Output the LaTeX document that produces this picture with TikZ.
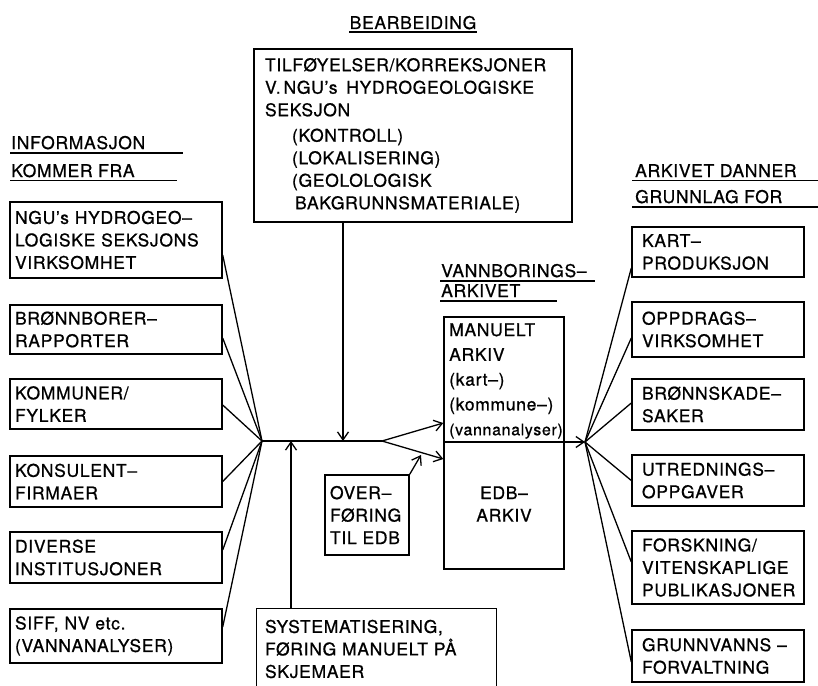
\documentclass[tikz,border=0pt]{standalone}
\usepackage{fontspec}
\setmainfont{TeX Gyre Heros}[LetterSpace=4,FakeBold=0.8]
\usetikzlibrary{arrows.meta}
\newcommand\dfont{\fontsize{17.5}{22.5}\selectfont}
\newcommand\sfontx{\fontsize{16}{22.5}\selectfont}
\tikzset{
  boxline/.style={line width=1.4pt},
  box/.style={draw, boxline, inner ysep=0pt, align=left, font=\dfont},
  lbox/.style={box, minimum width=212pt, inner xsep=5pt, text width=202pt},
  rbox/.style={box, minimum width=172pt, inner xsep=10pt, text width=152pt},
  lbl/.style={inner sep=0pt, font=\dfont},
  uline/.style={line width=1.2pt},
  wire/.style={line width=1.3pt},
  arr/.style={wire, -{Straight Barb[length=8pt,width=11pt]}},
}
\begin{document}
\begin{tikzpicture}[x=1pt,y=-1pt]
\useasboundingbox (0,0) rectangle (818,685);

% ---- headers
\node[lbl, anchor=base] (bear) at (413,29) {BEARBEIDING};
\draw[uline] ([yshift=-3pt]bear.base west) -- ([yshift=-3pt]bear.base east);

\node[lbl, anchor=base west] (inf) at (11,149) {INFORMASJON};
\draw[uline] ([xshift=-1pt,yshift=-4pt]inf.base west) -- ++(173,0);
\node[lbl, anchor=base west] (kom) at (11,177) {KOMMER FRA};
\draw[uline] ([xshift=-1pt,yshift=-3.5pt]kom.base west) -- ++(167,0);

\node[lbl, anchor=base west] (ark) at (635,177) {ARKIVET DANNER};
\draw[uline] ([xshift=-3pt,yshift=-3.5pt]ark.base west) -- ++(190,0);
\node[lbl, anchor=base west] (gru) at (635,203) {GRUNNLAG FOR};
\draw[uline] ([xshift=-3pt,yshift=-4pt]gru.base west) -- ++(190,0);

\node[lbl, anchor=base west] (vb) at (441,277) {VANNBORINGS–};
\draw[uline] ([xshift=-1pt,yshift=-4pt]vb.base west) -- ++(155,0);
\node[lbl, anchor=base west] (va) at (441,297) {ARKIVET};
\draw[uline] ([xshift=-1pt,yshift=-4pt]va.base west) -- ++(117,0);

% ---- top box
\node[box, minimum width=318pt, minimum height=173pt, inner xsep=11pt, text width=296pt] (top) at (413,135.5)
 {TILFØYELSER/KORREKSJONER\\
  V.\,NGU's\enspace HYDROGEOLOGISKE\\
  SEKSJON\\[3pt]
  \hspace*{27pt}(KONTROLL)\\
  \hspace*{27pt}(LOKALISERING)\\
  \hspace*{27pt}(GEOLOLOGISK\\
  \hspace*{30pt}BAKGRUNNSMATERIALE)};

% ---- left boxes
\node[lbox, minimum height=76pt] (l1) at (116,240) {NGU's HYDROGEO–\\LOGISKE SEKSJONS\\VIRKSOMHET};
\node[lbox, minimum height=49pt] (l2) at (116,329.5) {BRØNNBORER–\\RAPPORTER};
\node[lbox, minimum height=50pt] (l3) at (116,404) {KOMMUNER/\\FYLKER};
\node[lbox, minimum height=51pt] (l4) at (116,481.5) {KONSULENT–\\FIRMAER};
\node[lbox, minimum height=51pt] (l5) at (116,557.5) {DIVERSE\\INSTITUSJONER};
\node[lbox, minimum height=54pt] (l6) at (116,636) {SIFF, NV etc.\\(VANNANALYSER)};

% ---- right boxes
\node[rbox, minimum height=50pt] (r1) at (718,252) {KART–\\PRODUKSJON};
\node[rbox, minimum height=55pt] (r2) at (718,329.5) {OPPDRAGS–\\VIRKSOMHET};
\node[rbox, minimum height=51pt] (r3) at (718,404.5) {BRØNNSKADE–\\SAKER};
\node[rbox, minimum height=51pt] (r4) at (718,480.5) {UTREDNINGS–\\OPPGAVER};
\node[rbox, minimum height=73pt] (r5) at (718,567.5) {FORSKNING/\\VITENSKAPLIGE\\PUBLIKASJONER};
\node[rbox, minimum height=52pt] (r6) at (718,656) {GRUNNVANNS –\\FORVALTNING};

% ---- archive
\node[draw, boxline, minimum width=120pt, minimum height=252pt, inner sep=0pt] (arch) at (504,443) {};
\node[lbl, align=left, anchor=center, font=\fontsize{17.5}{24.8}\selectfont] (man) at (506,381)
 {MANUELT\\ARKIV\\(kart–)\\(kommune–)\\{\sfontx (vannanalyser)}};
\node[lbl, align=center] (edb) at (504,504) {EDB–\\ARKIV};

% ---- overføring & systematisering
\node[box, minimum width=84pt, minimum height=80pt, inner xsep=5pt, text width=74pt] (ovf) at (367,515) {OVER–\\FØRING\\TIL EDB};
\node[box, draw=none, minimum width=239pt, minimum height=80pt, inner xsep=8pt, text width=223pt] (sys) at (376.5,649)
 {SYSTEMATISERING,\\FØRING MANUELT PÅ\\SKJEMAER};
\draw[boxline] (sys.south west) -- (sys.north west) -- (sys.north east) -- (sys.south east);

% ---- junctions
\coordinate (hubL) at (262,441);
\coordinate (fork) at (382,441);
\coordinate (jt) at (343,441);
\coordinate (js) at (291,441);
\coordinate (hubR) at (585,442);
\coordinate (ovtip) at (421,455);

% ---- connectors left
\draw[wire] ([yshift=-15pt]l1.east) -- (hubL);
\draw[wire] ([yshift=-8.5pt]l2.east) -- (hubL);
\draw[wire] ([yshift=-1pt]l3.east) -- (hubL);
\draw[wire] (l4.east) -- (hubL);
\draw[wire] ([yshift=7.5pt]l5.east) -- (hubL);
\draw[wire] ([yshift=9pt]l6.east) -- (hubL);

\draw[wire] (hubL) -- (fork);
\draw[arr] (fork) -- ([yshift=20pt]arch.west);
\draw[arr] (fork) -- ([yshift=-16pt]arch.west);
\draw[arr] (top.south -| jt) -- (jt);
\draw[arr] (sys.north -| js) -- (js);
\draw[arr] (ovf.north east) -- (ovtip);

% ---- divider and right fan
\draw[arr] ([yshift=1pt]arch.west) -- (hubR);
\draw[wire] (hubR) -- ([yshift=-16pt]r1.west);
\draw[wire] (hubR) -- ([yshift=-8.5pt]r2.west);
\draw[wire] (hubR) -- ([yshift=1.5pt]r3.west);
\draw[wire] (hubR) -- (r4.west);
\draw[wire] (hubR) -- ([yshift=5.5pt]r5.west);
\draw[wire] (hubR) -- ([yshift=-6pt]r6.west);
\end{tikzpicture}
\end{document}
